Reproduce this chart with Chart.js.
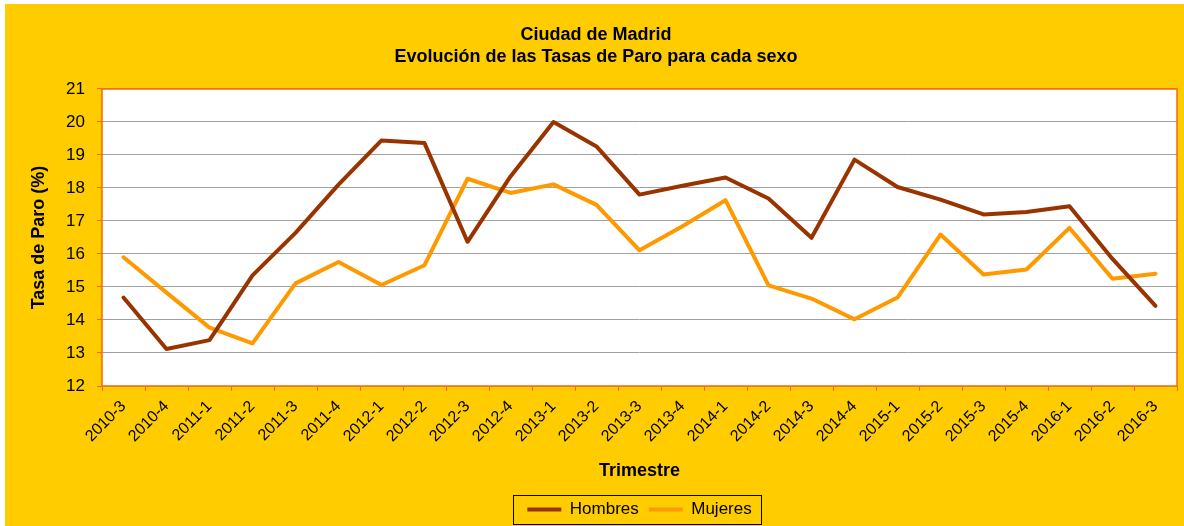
<!DOCTYPE html>
<html lang="es">
<head>
<meta charset="utf-8">
<title>Ciudad de Madrid - Tasas de Paro</title>
<script src="https://cdn.jsdelivr.net/npm/chart.js@4.4.1/dist/chart.umd.min.js"></script>
<style>
    html, body { margin: 0; padding: 0; background: #ffffff; }
    #wrap { width: 1184px; height: 526px; position: relative; }
</style>
</head>
<body>
<div id="wrap"><canvas id="paroChart"></canvas></div>
<script>
// Datos
const trimestres = ['2010-3', '2010-4', '2011-1', '2011-2', '2011-3', '2011-4', '2012-1', '2012-2',
    '2012-3', '2012-4', '2013-1', '2013-2', '2013-3', '2013-4', '2014-1', '2014-2', '2014-3',
    '2014-4', '2015-1', '2015-2', '2015-3', '2015-4', '2016-1', '2016-2', '2016-3'];
const tasaHombres = [14.68, 13.12, 13.39, 15.35, 16.64, 18.1, 19.44, 19.36, 16.37, 18.35, 20.0, 19.26,
    17.8, 18.07, 18.32, 17.68, 16.49, 18.86, 18.03, 17.65, 17.2, 17.27, 17.45, 15.85, 14.43];
const tasaMujeres = [15.9, 14.83, 13.77, 13.29, 15.11, 15.76, 15.06, 15.66, 18.28, 17.85, 18.11, 17.49,
    16.11, 16.84, 17.63, 15.05, 14.65, 14.02, 14.68, 16.59, 15.38, 15.53, 16.79, 15.25, 15.4];
const ejeY = { min: 12, max: 21, paso: 1 };

const fuente = "'Liberation Sans', Arial, sans-serif";
const naranja = '#FF6600';

// fondo amarillo, area blanca, borde naranja y caja de la leyenda
const fondoPlugin = {
    id: 'fondo',
    beforeDraw(chart) {
        const { ctx, chartArea } = chart;
        ctx.save();
        ctx.fillStyle = '#ffffff';
        ctx.fillRect(0, 0, chart.width, chart.height);
        ctx.fillStyle = '#FFCC00';
        ctx.fillRect(5, 4, chart.width - 5, chart.height - 4);
        ctx.fillStyle = '#ffffff';
        ctx.fillRect(chartArea.left, chartArea.top, chartArea.right - chartArea.left, chartArea.bottom - chartArea.top);
        ctx.restore();
    },
    beforeDatasetsDraw(chart) {
        const { ctx, chartArea } = chart;
        ctx.save();
        ctx.strokeStyle = naranja;
        ctx.lineWidth = 1.5;
        ctx.strokeRect(chartArea.left, chartArea.top, chartArea.right - chartArea.left, chartArea.bottom - chartArea.top);
        ctx.restore();
    },
    afterDraw(chart) {
        const boxes = chart.legend.legendHitBoxes;
        if (!boxes || !boxes.length) return;
        const first = boxes[0];
        const last = boxes[boxes.length - 1];
        const x0 = first.left - 14;
        const x1 = last.left + last.width + 10;
        const yc = first.top + first.height / 2;
        const { ctx } = chart;
        ctx.save();
        ctx.strokeStyle = '#000000';
        ctx.lineWidth = 1;
        ctx.strokeRect(Math.round(x0) + 0.5, Math.round(yc - 14.5) + 0.5, Math.round(x1 - x0), 29);
        ctx.restore();
    }
};

document.addEventListener('DOMContentLoaded', () => {
    const ctx = document.getElementById('paroChart').getContext('2d');
    new Chart(ctx, {
        type: 'line',
        data: {
            labels: trimestres,
            datasets: [
                {
                    label: 'Hombres',
                    data: tasaHombres,
                    borderColor: '#993300',
                    backgroundColor: '#993300',
                    borderWidth: 4,
                    pointRadius: 0,
                    borderJoinStyle: 'round',
                    borderCapStyle: 'round',
                    fill: false,
                    tension: 0
                },
                {
                    label: 'Mujeres',
                    data: tasaMujeres,
                    borderColor: '#FF9900',
                    backgroundColor: '#FF9900',
                    borderWidth: 4,
                    pointRadius: 0,
                    borderJoinStyle: 'round',
                    borderCapStyle: 'round',
                    fill: false,
                    tension: 0
                }
            ]
        },
        options: {
            responsive: true,
            maintainAspectRatio: false,
            animation: false,
            layout: {
                padding: { left: 15, right: 7, top: 0, bottom: -2 }
            },
            plugins: {
                title: {
                    display: true,
                    text: ['Ciudad de Madrid', 'Evolución de las Tasas de Paro para cada sexo'],
                    color: '#000000',
                    font: { family: fuente, size: 18, weight: 'bold', lineHeight: 1.2222 },
                    padding: { top: 24, bottom: 21 }
                },
                legend: {
                    position: 'bottom',
                    fullSize: false,
                    labels: {
                        color: '#000000',
                        font: { family: fuente, size: 17 },
                        boxWidth: 34,
                        boxHeight: 4,
                        padding: 10,
                        generateLabels(chart) {
                            return Chart.defaults.plugins.legend.labels.generateLabels(chart).map(item => {
                                item.lineWidth = 0;
                                item.fillStyle = item.strokeStyle;
                                return item;
                            });
                        }
                    }
                },
                tooltip: { enabled: false }
            },
            scales: {
                x: {
                    offset: true,
                    grid: {
                        offset: true,
                        drawOnChartArea: false,
                        drawTicks: true,
                        tickLength: 5,
                        tickColor: naranja
                    },
                    border: { display: false },
                    ticks: {
                        color: '#000000',
                        font: { family: fuente, size: 16 },
                        minRotation: 45,
                        maxRotation: 45,
                        autoSkip: false,
                        padding: 6
                    },
                    title: {
                        display: true,
                        text: 'Trimestre',
                        color: '#000000',
                        font: { family: fuente, size: 18, weight: 'bold' },
                        padding: { top: 0, bottom: 9 }
                    },
                    afterFit(scale) {
                        scale.height = 105;
                    }
                },
                y: {
                    min: ejeY.min,
                    max: ejeY.max,
                    grid: {
                        color: '#A0A0A0',
                        lineWidth: 1,
                        tickLength: 5,
                        tickColor: naranja
                    },
                    border: { display: false },
                    ticks: {
                        stepSize: ejeY.paso,
                        color: '#000000',
                        font: { family: fuente, size: 17 },
                        padding: 12
                    },
                    title: {
                        display: true,
                        text: 'Tasa de Paro (%)',
                        color: '#000000',
                        font: { family: fuente, size: 18, weight: 'bold' },
                        padding: { top: 13, bottom: 0 }
                    },
                    afterFit(scale) {
                        scale.width = 87;
                    }
                }
            }
        },
        plugins: [fondoPlugin]
    });
});
</script>
</body>
</html>
